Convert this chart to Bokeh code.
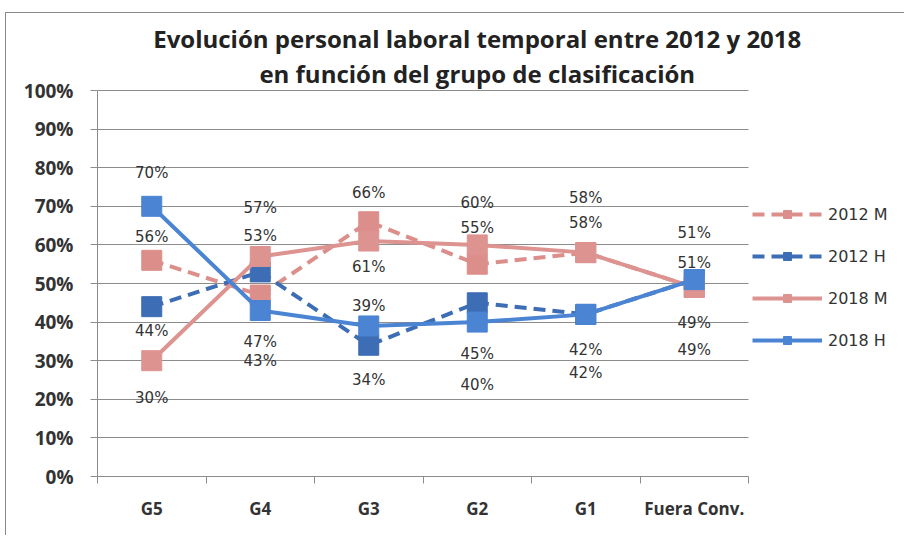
from bokeh.plotting import figure
from bokeh.models import Range1d, FixedTicker, Legend, LegendItem, ColumnDataSource, Label
from bokeh.core.properties import value
from bokeh.embed import file_html
from bokeh.resources import INLINE

# ---------------- data ----------------
categories = ["G5", "G4", "G3", "G2", "G1", "Fuera Conv."]
m_2012 = [56, 47, 66, 55, 58, 49]
h_2012 = [44, 53, 34, 45, 42, 51]
m_2018 = [30, 57, 61, 60, 58, 49]
h_2018 = [70, 43, 39, 40, 42, 51]
series_names = ["2012 M", "2012 H", "2018 M", "2018 H"]
y_ticks = [0, 10, 20, 30, 40, 50, 60, 70, 80, 90, 100]
title_lines = ["Evolución personal laboral temporal entre 2012 y 2018",
               "en función del grupo de clasificación"]

# ---------------- layout / style ----------------
# pixel offsets of the data labels (positive = downwards), per series
label_dy = [
    [-23, 47, -29, -36, -30, 36],
    [24, -36, 35, 51, 36, -17],
    [37, -48, 26, -42, -55, 63],
    [-33, 50, -20, 63, 59, -47],
]
colors = ["#DC8E8B", "#3D6DB5", "#DD9390", "#4A84D3"]
dashes = ["12 7", "12 7", "solid", "solid"]
grid_col = "#8C8C8C"
text_col = "#333333"
axis_font = "Open Sans"
label_font = "DejaVu Sans"

W, H = 899, 523            # canvas (after 6px/13px offset of the chart box)
LEFT, BOTTOM = 91, 60      # borders around the frame
PX_X = 108.5               # pixels per category
PX_Y = 3.86                # pixels per percent
n = len(categories)
x_end = (W - LEFT) / PX_X
y_end = (H - BOTTOM) / PX_Y

xs = [i + 0.5 for i in range(n)]

p = figure(width=W, height=H, output_backend="svg", toolbar_location=None,
           x_range=Range1d(0, x_end), y_range=Range1d(0, y_end),
           min_border_left=LEFT, min_border_right=0, min_border_top=0, min_border_bottom=BOTTOM)
p.styles = {"margin-left": "5px", "margin-top": "12px",
            "border-left": "1px solid #8a8a8a", "border-top": "1px solid #8a8a8a"}
p.outline_line_color = None
p.background_fill_color = "white"
p.border_fill_color = "white"

# axes
p.xaxis.bounds = (0, n)
p.xaxis.ticker = FixedTicker(ticks=xs, minor_ticks=list(range(n + 1)))
p.xaxis.major_label_overrides = {x: c for x, c in zip(xs, categories)}
p.xaxis.major_tick_out = 0
p.xaxis.major_tick_in = 0
p.xaxis.minor_tick_out = 7
p.xaxis.minor_tick_in = 0
p.xaxis.minor_tick_line_color = grid_col
p.xaxis.axis_line_color = grid_col
p.xaxis.major_label_standoff = 13
p.xaxis.major_label_text_font = axis_font
p.xaxis.major_label_text_font_style = "bold"
p.xaxis.major_label_text_font_size = "17px"
p.xaxis.major_label_text_color = text_col

p.yaxis.bounds = (0, 100)
p.yaxis.ticker = FixedTicker(ticks=y_ticks, minor_ticks=[])
p.yaxis.major_label_overrides = {v: f"{v}%" for v in y_ticks}
p.yaxis.major_tick_out = 7
p.yaxis.major_tick_in = 0
p.yaxis.major_tick_line_color = grid_col
p.yaxis.axis_line_color = grid_col
p.yaxis.major_label_standoff = 17
p.yaxis.major_label_text_font = axis_font
p.yaxis.major_label_text_font_style = "bold"
p.yaxis.major_label_text_font_size = "19px"
p.yaxis.major_label_text_color = text_col

p.xgrid.visible = False
p.ygrid.ticker = FixedTicker(ticks=y_ticks)
p.ygrid.cross_bounds = (0, n)
p.ygrid.grid_line_color = grid_col
p.ygrid.grid_line_width = 1

all_series = [m_2012, h_2012, m_2018, h_2018]
items = []
for name, vals, col, dash, dys in zip(series_names, all_series, colors, dashes, label_dy):
    src = ColumnDataSource(dict(x=xs, y=vals, t=[f"{v}%" for v in vals], dy=dys))
    ln = p.line("x", "y", source=src, line_color=col, line_width=4, line_dash=dash)
    sc = p.scatter("x", "y", source=src, marker="square", size=20, fill_color=col, line_color=col)
    items.append(LegendItem(label=name, renderers=[ln, sc]))
    p.text("x", "y", text="t", source=src, y_offset="dy", text_align="center",
           text_baseline="middle", text_font=value(label_font), text_font_size="15px",
           text_color=text_col)

legend = Legend(items=items, location=(655, 126), glyph_width=70, glyph_height=20,
                label_standoff=6, spacing=22, padding=0, margin=0,
                label_text_font=label_font, label_text_font_size="16px",
                label_text_color=text_col, border_line_color=None,
                background_fill_alpha=0)
p.add_layout(legend, "center")

# title (two lines), centred over the chart
for txt, yy in zip(title_lines, [113.5, 104.4]):
    p.add_layout(Label(x=3.5, y=yy, text=txt, text_align="center", text_baseline="middle",
                       text_font=axis_font, text_font_style="bold", text_font_size="24px",
                       text_color="#222222"))

open("out.html", "w").write(file_html(p, INLINE))
